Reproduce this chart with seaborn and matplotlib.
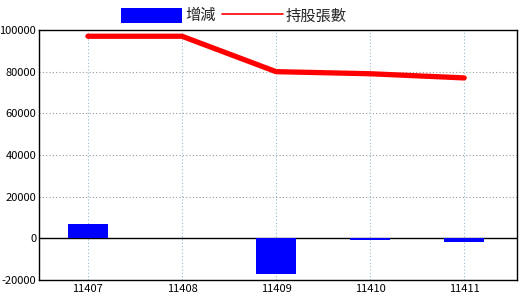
import matplotlib
matplotlib.use("Agg")
import matplotlib.pyplot as plt
import seaborn as sns
import numpy as np
import pandas as pd
from matplotlib.patches import Patch
from matplotlib.lines import Line2D

categories = ["11407", "11408", "11409", "11410", "11411"]
change = [7000, 0, -17000, -1000, -2000]
holdings = [97000, 97000, 80000, 79000, 77000]
yticks = [-20000, 0, 20000, 40000, 60000, 80000, 100000]

sns.set_theme(style="white")
plt.rcParams['font.family'] = ['Noto Sans CJK TC', 'DejaVu Sans']

df = pd.DataFrame({"cat": categories, "pos": np.arange(len(categories)),
                   "change": change, "holdings": holdings})

fig = plt.figure(figsize=(5.2, 3.0), dpi=100)
ax = fig.add_axes([0.075, 0.0667, 0.919, 0.8333])

sns.barplot(data=df, x="cat", y="change", order=categories, color="#0000ff",
            saturation=1, width=0.43, ax=ax, zorder=3, linewidth=0,
            edgecolor="none")
sns.lineplot(data=df, x="pos", y="holdings", color="#ff0000", linewidth=3.8,
             ax=ax, zorder=4, solid_capstyle="round")

ax.set_xlim(-0.52, 4.56)
ax.set_ylim(-20000, 100000)
ax.set_yticks(yticks)
ax.set_yticklabels([str(v) for v in yticks])
ax.set_xlabel("")
ax.set_ylabel("")
ax.tick_params(axis="y", labelsize=8, length=0, pad=2, colors="black")
ax.tick_params(axis="x", labelsize=8, length=0, pad=3, colors="black")
for t in ax.get_xticklabels() + ax.get_yticklabels():
    t.set_color("black")

for v in yticks[2:-1]:
    ax.axhline(v, color="#999999", linestyle=(0, (1, 2)), linewidth=0.8, zorder=1)
for i in range(len(categories)):
    ax.axvline(i, color="#99bbcc", linestyle=(0, (1, 2)), linewidth=0.8, zorder=1)
ax.axhline(0, color="black", linewidth=1.0, zorder=2)

for s in ax.spines.values():
    s.set_visible(True)
    s.set_color("black")
    s.set_linewidth(1.0)

handles = [Patch(facecolor="#0000ff", edgecolor="none", label="增減"),
           Line2D([0], [0], color="#ff0000", linewidth=1.2, label="持股張數")]
fig.legend(handles=handles, loc="center", bbox_to_anchor=(0.45, 0.947), ncol=2,
           frameon=False, fontsize=11, handlelength=4.0, handleheight=1.1,
           handletextpad=0.2, columnspacing=0.4, borderaxespad=0)

fig.savefig("out.png", dpi=100)
